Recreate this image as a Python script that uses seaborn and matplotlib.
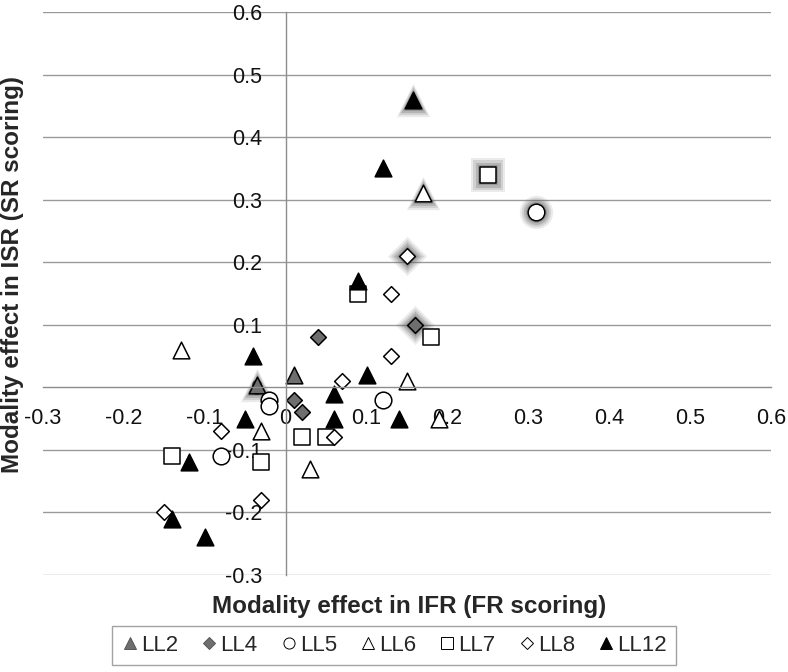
import matplotlib
matplotlib.use('Agg')
import matplotlib.pyplot as plt
from matplotlib.lines import Line2D
import seaborn as sns
import pandas as pd

# --- data ---
series = ['LL2', 'LL4', 'LL5', 'LL6', 'LL7', 'LL8', 'LL12']

ll2_x = [-0.035, 0.01]
ll2_y = [0.003, 0.02]

ll4_x = [0.16, 0.04, 0.01, 0.02]
ll4_y = [0.10, 0.08, -0.02, -0.04]

ll5_x = [0.31, 0.12, -0.02, -0.02, -0.08]
ll5_y = [0.28, -0.02, -0.02, -0.03, -0.11]

ll6_x = [0.17, 0.15, 0.19, -0.13, -0.03, 0.03]
ll6_y = [0.31, 0.01, -0.05, 0.06, -0.07, -0.13]

ll7_x = [0.25, 0.09, 0.18, 0.02, 0.05, -0.14, -0.03]
ll7_y = [0.34, 0.15, 0.08, -0.08, -0.08, -0.11, -0.12]

ll8_x = [0.15, 0.13, 0.13, 0.07, 0.06, -0.08, -0.03, -0.15]
ll8_y = [0.21, 0.15, 0.05, 0.01, -0.08, -0.07, -0.18, -0.20]

ll12_x = [0.158, 0.12, 0.09, 0.10, 0.06, 0.06, 0.14, -0.04, -0.05, -0.12, -0.14, -0.10]
ll12_y = [0.46, 0.35, 0.17, 0.02, -0.01, -0.05, -0.05, 0.05, -0.05, -0.12, -0.21, -0.24]

# index of the highlighted (glowing) point in each series
glow_idx = {'LL2': 0, 'LL4': 0, 'LL5': 0, 'LL6': 0, 'LL7': 0, 'LL8': 0, 'LL12': 0}

xs = [ll2_x, ll4_x, ll5_x, ll6_x, ll7_x, ll8_x, ll12_x]
ys = [ll2_y, ll4_y, ll5_y, ll6_y, ll7_y, ll8_y, ll12_y]

ticks = [-0.3, -0.2, -0.1, 0, 0.1, 0.2, 0.3, 0.4, 0.5, 0.6]
tick_labels = ['-0.3', '-0.2', '-0.1', '0', '0.1', '0.2', '0.3', '0.4', '0.5', '0.6']

# --- styles ---
markers = {'LL2': '^', 'LL4': 'D', 'LL5': 'o', 'LL6': '^', 'LL7': 's', 'LL8': 'D', 'LL12': '^'}
fills = {'LL2': '#6e6e6e', 'LL4': '#6e6e6e', 'LL5': 'white', 'LL6': 'white',
         'LL7': 'white', 'LL8': 'white', 'LL12': 'black'}
msize = {'LL2': 12, 'LL4': 8, 'LL5': 12, 'LL6': 12, 'LL7': 12, 'LL8': 8, 'LL12': 12}

sns.set_style('white')
plt.rcParams['font.family'] = ['Liberation Sans', 'DejaVu Sans']

fig, ax = plt.subplots(figsize=(7.88, 6.72), dpi=100)
fig.subplots_adjust(left=43 / 788, right=771 / 788, top=1 - 12 / 672, bottom=1 - 575 / 672)

for name, x, y in zip(series, xs, ys):
    df = pd.DataFrame({'x': x, 'y': y})
    g = df.iloc[[glow_idx[name]]]
    # soft grey glow behind highlighted point
    for extra, a in [(12, 0.12), (9, 0.18), (6, 0.25), (3, 0.35)]:
        sns.scatterplot(data=g, x='x', y='y', ax=ax, marker=markers[name],
                        s=(msize[name] + extra) ** 2, color='#606060', alpha=a,
                        linewidth=0, zorder=1.5, legend=False)
    sns.scatterplot(data=df, x='x', y='y', ax=ax, marker=markers[name],
                    s=msize[name] ** 2, color=fills[name], edgecolor='black',
                    linewidth=1.1, zorder=2, legend=False)

# axes crossing at zero
ax.set_xlim(-0.3, 0.6)
ax.set_ylim(-0.3, 0.6)
ax.spines['left'].set_position(('data', 0))
ax.spines['bottom'].set_position(('data', 0))
ax.spines['top'].set_visible(False)
ax.spines['right'].set_visible(False)
for sp in ['left', 'bottom']:
    ax.spines[sp].set_color('#8c8c8c')
    ax.spines[sp].set_linewidth(1.0)

ax.set_xticks(ticks)
ax.set_xticklabels(tick_labels)
ax.set_yticks(ticks)
ax.set_yticklabels(tick_labels)
ax.tick_params(axis='x', direction='out', length=4, width=0.8, color='#8c8c8c',
               pad=11, labelsize=15.5, labelcolor='#111111')
ax.tick_params(axis='y', length=0, pad=17, labelsize=15.5, labelcolor='#111111')

for t in ticks:
    if t != 0:
        ax.axhline(t, color='#9a9a9a', linewidth=1.0, zorder=0.5)

ax.set_xlabel('')
ax.set_ylabel('')
fig.text(0.519, 0.098, 'Modality effect in IFR (FR scoring)', ha='center', va='center',
         fontsize=17.5, fontweight='bold')
fig.text(0.016, 0.592, 'Modality effect in ISR (SR scoring)', ha='center', va='center',
         rotation=90, fontsize=17.5, fontweight='bold')

handles = [Line2D([], [], linestyle='none', marker=markers[n],
                  markersize=8 if markers[n] != 'D' else 6,
                  markerfacecolor=fills[n],
                  markeredgecolor='black' if fills[n] != '#6e6e6e' else '#555555',
                  markeredgewidth=0.7) for n in series]
leg = fig.legend(handles, series, loc='center', bbox_to_anchor=(0.5, 0.04), ncol=7,
                 fontsize=16, frameon=True, fancybox=False, handlelength=0.8,
                 handletextpad=0.1, columnspacing=1.0, borderpad=0.4)
leg.get_frame().set_edgecolor('#8c8c8c')
leg.get_frame().set_linewidth(1.0)

fig.savefig('out.png', dpi=100)
